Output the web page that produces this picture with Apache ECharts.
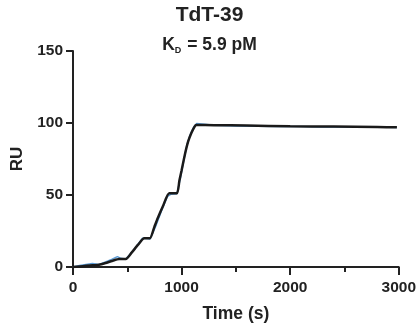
<!DOCTYPE html>
<html><head><meta charset="utf-8">
<script src="https://cdn.jsdelivr.net/npm/echarts@6/dist/echarts.min.js"></script>
<style>html,body{margin:0;padding:0;background:#fff}#c{width:419px;height:333px}</style>
</head><body><div id="c"></div>
<script>
var titleText = "TdT-39";
var subtitleParts = ["K", "D", " = 5.9 pM"];
var xTicks = [0, 1000, 2000, 3000];
var yTicks = [0, 50, 100, 150];
// measured data (time s, RU)
var dataTime = [0, 60, 120, 178, 240, 300, 360, 409, 440, 486, 540, 600, 640, 680, 710, 760, 820, 870, 900, 957, 990, 1020, 1050, 1080, 1110, 1139, 1300, 1500, 1700, 1900, 2100, 2300, 2500, 2700, 2900, 2980];
var dataRU   = [0, 1.0, 1.8, 2.5, 1.8, 3.5, 5.5, 7.2, 6.0, 5.6, 10, 16, 20, 19.8, 19.5, 28, 40, 49, 50.5, 50.8, 62, 74, 85, 92, 97, 99.7, 98.4, 98.0, 97.7, 97.6, 97.5, 97.3, 97.2, 97.1, 97.0, 96.8];
// fitted curve (time s, RU)
var fitTime = [0, 60, 120, 180, 240, 300, 360, 425, 486, 540, 600, 656, 708, 750, 780, 830, 886, 957, 980, 1000, 1030, 1060, 1090, 1120, 1135, 1300, 1600, 2000, 2400, 2800, 2983];
var fitRU   = [0, 0.4, 0.8, 1.2, 1.6, 2.8, 4.2, 5.5, 5.5, 10, 15.5, 19.9, 19.9, 28, 33.8, 42.5, 51.2, 51.2, 60, 67, 78, 87, 93, 97.5, 98.6, 98.5, 98.2, 97.8, 97.5, 97.2, 97.0];

function pairs(a, b) { return a.map(function (v, i) { return [v, b[i]]; }); }

var FONT = "Liberation Sans";
var TXT = '#222';
var chart = echarts.init(document.getElementById('c'));
chart.setOption({
  animation: false,
  backgroundColor: '#fff',
  title: [{
    text: titleText, left: 'center', top: 5, padding: 0,
    textStyle: { fontFamily: FONT, fontWeight: 'bold', fontSize: 21, color: TXT }
  }, {
    text: '{m|' + subtitleParts[0] + '}{s|' + subtitleParts[1] + '}{m|' + subtitleParts[2] + '}',
    left: 'center', top: 35, padding: 0,
    textStyle: {
      rich: {
        m: { fontFamily: FONT, fontWeight: 'bold', fontSize: 17.5, color: TXT, lineHeight: 20 },
        s: { fontFamily: FONT, fontWeight: 'bold', fontSize: 9, color: TXT, verticalAlign: 'bottom', lineHeight: 20, padding: [12, 1, 0, 0] }
      }
    }
  }],
  grid: { left: 73, right: 20, top: 51, bottom: 66 },
  xAxis: {
    type: 'value', min: 0, max: 3000, interval: 1000,
    name: 'Time (s)', nameLocation: 'middle', nameGap: 38,
    nameTextStyle: { fontFamily: FONT, fontWeight: 'bold', fontSize: 17.5, color: TXT },
    axisLine: { onZero: false, lineStyle: { color: TXT, width: 2 } },
    axisTick: { length: 8, lineStyle: { color: TXT, width: 2 } },
    minorTick: { show: true, splitNumber: 2, length: 5, lineStyle: { color: TXT, width: 2 } },
    axisLabel: {
      fontFamily: FONT, fontWeight: 'bold', fontSize: 15.5, color: TXT, margin: 13,
      formatter: function (v) { return xTicks.indexOf(v) >= 0 ? String(v) : ''; }
    },
    splitLine: { show: false }
  },
  yAxis: {
    type: 'value', min: 0, max: 150, interval: 50,
    name: 'RU', nameLocation: 'middle', nameGap: 47, nameRotate: 90,
    nameTextStyle: { fontFamily: FONT, fontWeight: 'bold', fontSize: 17, color: TXT },
    axisLine: { show: true, lineStyle: { color: TXT, width: 2 } },
    axisTick: { show: true, length: 7, lineStyle: { color: TXT, width: 2 } },
    axisLabel: {
      fontFamily: FONT, fontWeight: 'bold', fontSize: 15.5, color: TXT, margin: 10,
      formatter: function (v) { return yTicks.indexOf(v) >= 0 ? String(v) : ''; }
    },
    splitLine: { show: false }
  },
  series: [{
    type: 'line', data: pairs(dataTime, dataRU), showSymbol: false, smooth: false,
    lineStyle: { color: '#5b9bd5', width: 1.5 }, z: 2
  }, {
    type: 'line', data: pairs(fitTime, fitRU), showSymbol: false, smooth: 0.2,
    lineStyle: { color: '#1a1a1a', width: 2.5 }, z: 3
  }]
});
</script></body></html>
